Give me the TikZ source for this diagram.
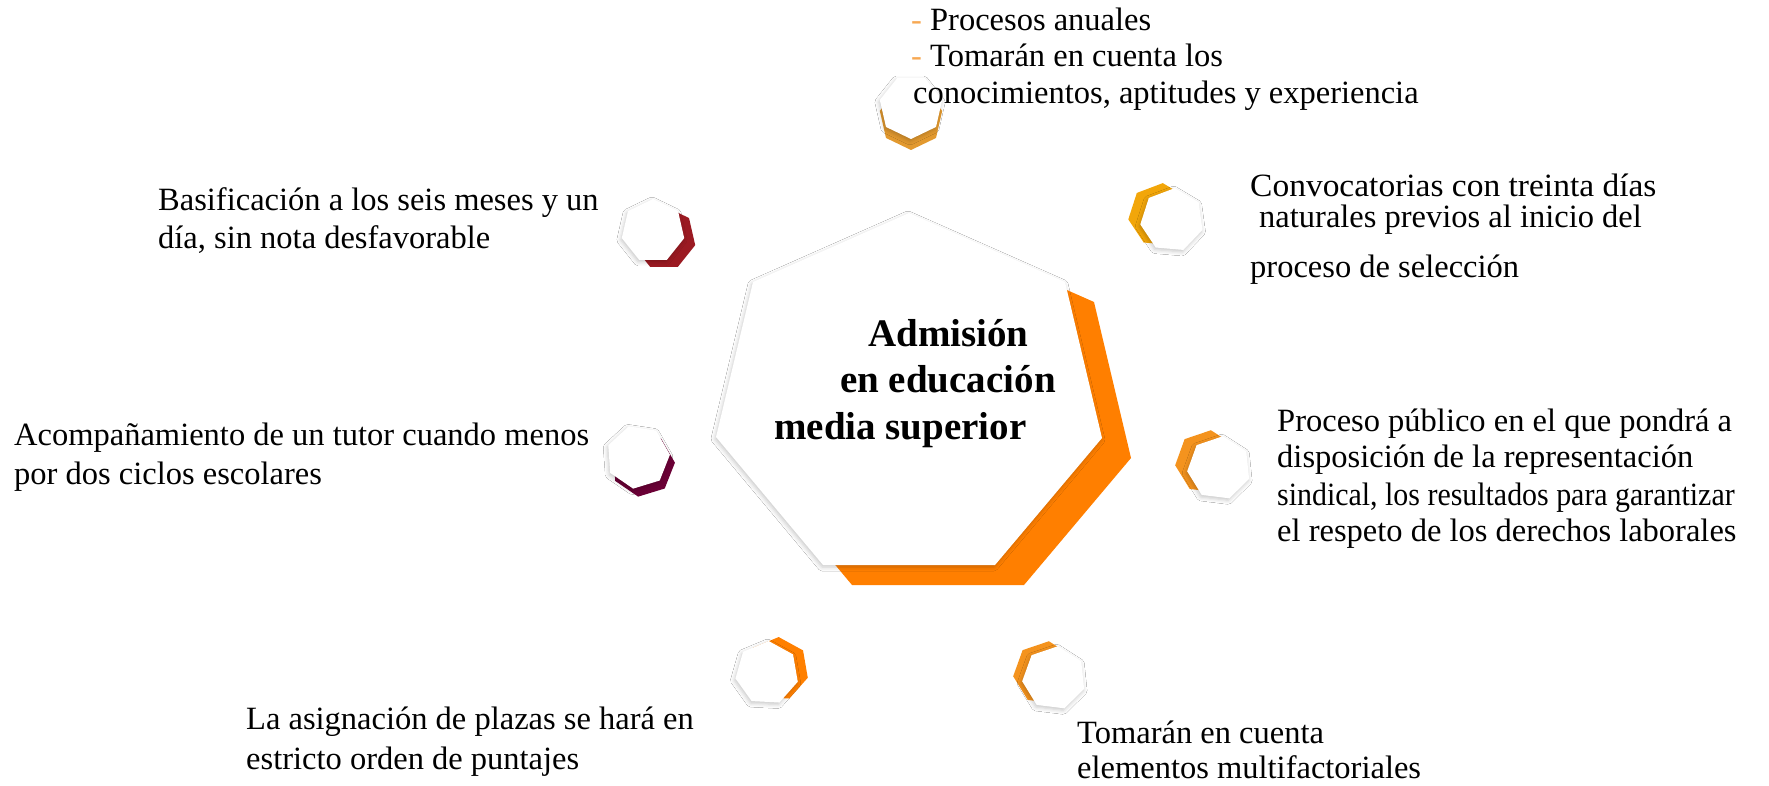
\documentclass[tikz,border=0pt]{standalone}
\usepackage{fontspec}
\setmainfont{Liberation Serif}
\usetikzlibrary{shapes.geometric,shadows.blur}
\definecolor{bigorange}{RGB}{255,127,0}
\definecolor{cA}{RGB}{226,153,47}
\definecolor{cB}{RGB}{155,26,34}
\definecolor{cC}{RGB}{107,0,54}
\definecolor{cD}{RGB}{242,166,10}
\definecolor{cE}{RGB}{244,147,30}
\definecolor{cF}{RGB}{255,128,0}
\definecolor{cG}{RGB}{244,147,30}
\definecolor{dashc}{RGB}{247,168,82}
\newcommand{\hepta}[7]{%
  \node[hep, fill=#5, shape border rotate=#4] (#1s) at ({#2+#6},{#3+#7}) {};
  \node[hep, fill=white, softshadow, shape border rotate=#4] (#1) at (#2,#3) {};}
\begin{document}
\begin{tikzpicture}[x=1pt,y=-1pt]
\tikzset{
  hep/.style={regular polygon, regular polygon sides=7, minimum size=64pt, inner sep=0pt, outer sep=0pt, draw=none},
  softshadow/.style={blur shadow={shadow xshift=-1pt, shadow yshift=-2pt, shadow blur radius=4pt, shadow opacity=22}},
  txt/.style={anchor=base west, inner sep=0pt, font=\fontsize{32.5}{38}\selectfont},
  ttl/.style={anchor=base west, inner sep=0pt, font=\fontsize{39}{46}\selectfont\bfseries},
}
\fill[white] (0,0) rectangle (1769,786);
\useasboundingbox (0,0) rectangle (1769,786);

% central heptagon
\fill[bigorange] (938,233) -- (1094,302) -- (1131,458) -- (1024,585) -- (852,585) -- (745,457) -- (782,302) -- cycle;
\fill[white, softshadow] (909,213) -- (1065,282) -- (1102,438) -- (995,565) -- (823,565) -- (716,437) -- (753,282) -- cycle;

% small heptagons
\hepta{pA}{911}{107}{180}{cA}{0}{11}
\hepta{pB}{653}{231}{0}{cB}{11}{7}
\hepta{pC}{638}{457}{17}{cC}{5}{8}
\hepta{pD}{1172}{220}{-5}{cD}{-12}{-5}
\hepta{pE}{1219}{468}{-7}{cE}{-12}{-6}
\hepta{pF}{767}{673}{-3}{cF}{10}{-4}
\hepta{pG}{1054}{678}{-7}{cG}{-9}{-5}

% title
\node[ttl] (ti1) at (868,346) {Admisión};
\node[ttl] (ti2) at (840,392) {en educación};
\node[ttl] (ti3) at (774,439) {media superior};

% texts
\node[txt] (t1a) at (911,31) {\textcolor{dashc}{-} Procesos anuales};
\node[txt] (t1b) at (911,67) {\textcolor{dashc}{-} Tomarán en cuenta los};
\node[txt] (t1c) at (913,104) {conocimientos, aptitudes y experiencia};

\node[txt] (t2a) at (1250,197) {\scalebox{1.03}[1]{Convocatorias con treinta días}};
\node[txt] (t2b) at (1259,228) {naturales previos al inicio del};
\node[txt] (t2c) at (1250,277) {proceso de selección};

\node[txt] (t3a) at (1277,431) {Proceso público en el que pondrá a};
\node[txt] (t3b) at (1277,467) {disposición de la representación};
\node[txt] (t3c) at (1277,505) {\scalebox{0.92}[1]{sindical, los resultados para garantizar}};
\node[txt] (t3d) at (1277,541) {el respeto de los derechos laborales};

\node[txt] (t4a) at (1077,743) {Tomarán en cuenta};
\node[txt] (t4b) at (1077,778) {elementos multifactoriales};

\node[txt] (t5a) at (246,729) {La asignación de plazas se hará en};
\node[txt] (t5b) at (246,769) {estricto orden de puntajes};

\node[txt] (t6a) at (14,445) {Acompañamiento de un tutor cuando menos};
\node[txt] (t6b) at (14,484) {por dos ciclos escolares};

\node[txt] (t7a) at (158,211) {Basificación a los seis meses y un};
\node[txt] (t7b) at (158,249) {día, sin nota desfavorable};
\end{tikzpicture}
\end{document}
